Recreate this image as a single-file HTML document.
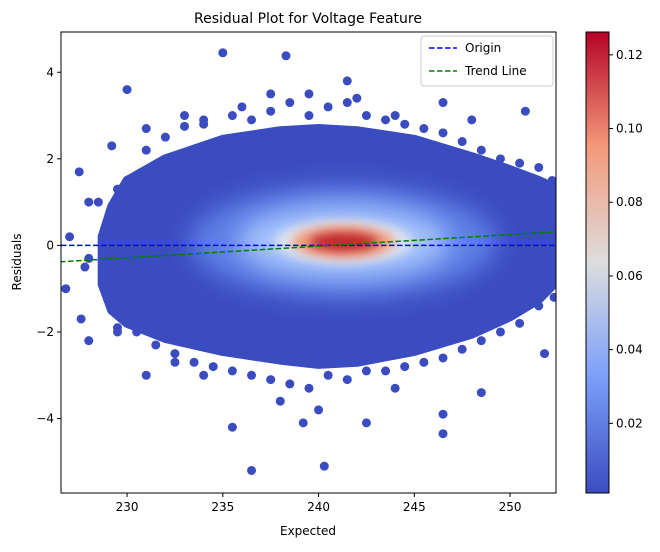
<!DOCTYPE html>
<html><head><meta charset="utf-8"><style>
body{margin:0;background:#fff;font-family:"Liberation Sans","DejaVu Sans",sans-serif;}
svg text{font-family:"DejaVu Sans","Liberation Sans",sans-serif;}
</style></head><body>
<svg id="chart" width="660" height="547" viewBox="0 0 660 547" xmlns="http://www.w3.org/2000/svg">
<defs>
<linearGradient id="cw" x1="0" y1="1" x2="0" y2="0">
<stop offset="0" stop-color="#3b4cc0"/><stop offset="0.25" stop-color="#7b9ff9"/><stop offset="0.5" stop-color="#dddddd"/><stop offset="0.75" stop-color="#f49a7b"/><stop offset="1" stop-color="#b40426"/>
</linearGradient>
<filter id="bl" x="-50%" y="-50%" width="200%" height="200%"><feGaussianBlur stdDeviation="12"/></filter>
<filter id="bl2" x="-50%" y="-50%" width="200%" height="200%"><feGaussianBlur stdDeviation="5"/></filter>
<clipPath id="pc"><rect x="61" y="32" width="495" height="461"/></clipPath>
</defs>
<text x="308" y="23" font-size="14" text-anchor="middle">Residual Plot for Voltage Feature</text>
<g id="plot" clip-path="url(#pc)"></g>
<rect x="61" y="32" width="495" height="461" fill="none" stroke="#000" stroke-width="1"/>
<g id="axes"></g>
<text x="308" y="535" font-size="12" text-anchor="middle">Expected</text>
<text transform="translate(21,262) rotate(-90)" font-size="12" text-anchor="middle">Residuals</text>
<g>
<rect x="421" y="36" width="132" height="50" rx="3" fill="#fff" fill-opacity="0.85" stroke="#ccc"/>
<line x1="429" y1="48" x2="457" y2="48" stroke="#0000ff" stroke-width="1.5" stroke-dasharray="5.5,2.5"/>
<text x="465" y="52" font-size="12">Origin</text>
<line x1="429" y1="71" x2="457" y2="71" stroke="#008000" stroke-width="1.5" stroke-dasharray="5.5,2.5"/>
<text x="465" y="75" font-size="12">Trend Line</text>
</g>
<rect x="586" y="32" width="23" height="461" fill="url(#cw)" stroke="#000" stroke-width="1"/>
<g id="cbticks"></g>
</svg>
<script>
const xTicks=[230,235,240,245,250];
const yTicks=[-4,-2,0,2,4];
const cbTicks=[0.02,0.04,0.06,0.08,0.10,0.12];
const cbLabels=["0.02","0.04","0.06","0.08","0.10","0.12"];
const envX=[228.7,229.2,230,232,235,238,240,242,245,248,250,251.5,252.5];
const envHi=[0.2,0.9,1.5,2.0,2.45,2.65,2.7,2.65,2.45,2.05,1.75,1.5,1.3];
const envLo=[-0.9,-1.5,-1.8,-2.15,-2.45,-2.65,-2.75,-2.7,-2.45,-2.05,-1.65,-1.25,-0.8];
const fringeX=[231,232,233,234,235.5,236.5,237.5,238.5,239.5,240.5,241.5,242.5,243.5,244.5,245.5,246.5,247.5,248.5,249.5,250.5,251.5,229.5,228.5,252.2,229.5,230.5,231.5,232.5,233.5,234.5,235.5,236.5,237.5,238.5,239.5,240.5,241.5,242.5,243.5,244.5,245.5,246.5,247.5,248.5,249.5,250.5,251.5,252.3,228,227.8];
const fringeY=[2.2,2.5,2.75,2.9,3.0,2.9,3.1,3.3,3.0,3.2,3.3,3.0,2.9,2.8,2.7,2.6,2.4,2.2,2.0,1.9,1.8,1.3,1.0,1.5,-1.9,-2.0,-2.3,-2.5,-2.7,-2.8,-2.9,-3.0,-3.1,-3.2,-3.3,-3.0,-3.1,-2.9,-2.9,-2.8,-2.7,-2.6,-2.4,-2.2,-2.0,-1.8,-1.4,-1.2,-0.3,-0.5];
const outX=[235,238.3,241.5,230,236,233,246.5,250.8,244,231,229.2,227.5,228,227,226.8,227.6,228,229.5,231,232.5,234,235.5,236.5,239.2,240.3,242.5,240,246.5,246.5,248.5,251.8,252.3,252.2,238,244,237.5,239.5,242,234,248];
const outY=[4.45,4.38,3.8,3.6,3.2,3.0,3.3,3.1,3.0,2.7,2.3,1.7,1.0,0.2,-1.0,-1.7,-2.2,-2.0,-3.0,-2.7,-3.0,-4.2,-5.2,-4.1,-5.1,-4.1,-3.8,-4.35,-3.9,-3.4,-2.5,-0.5,0.4,-3.6,-3.3,3.5,3.5,3.4,2.8,2.9];
const trendX=[226.5,252.6];
const trendY=[-0.38,0.32];
const coreX=241.3, coreY=0.08;
const coreRX=[8,5.5,3.6,2.7,1.8];
const coreRY=[1.3,0.85,0.5,0.38,0.22];
const coreC=["#5f80e6","#a5c3fd","#dfe4ef","#f0a080","#c0282d"];
const cbMin=0.0011, cbMax=0.1262;

const X0=226.55,X1=252.4,Y0=-5.72,Y1=4.93;
const sx=v=>61+(v-X0)/(X1-X0)*495;
const sy=v=>493-(v-Y0)/(Y1-Y0)*461;
const cy=v=>493-(v-cbMin)/(cbMax-cbMin)*461;
const NS="http://www.w3.org/2000/svg";
function mk(t,a,p){const e=document.createElementNS(NS,t);for(const k in a)e.setAttribute(k,a[k]);p.appendChild(e);return e;}
const plot=document.getElementById('plot'),axes=document.getElementById('axes'),cb=document.getElementById('cbticks');
const C="#3b4cc0";
let pts=envX.map((x,i)=>sx(x)+","+sy(envHi[i])).concat(envX.map((x,i)=>sx(x)+","+sy(envLo[i])).reverse()).join(" ");
const env=mk('polygon',{points:pts,fill:C,stroke:C,"stroke-width":9,"stroke-linejoin":"round"},plot);


fringeX.forEach((x,i)=>{const c=mk('circle',{cx:sx(x),cy:sy(fringeY[i]),r:4.5,fill:C},plot);

});
outX.forEach((x,i)=>{const c=mk('circle',{cx:sx(x),cy:sy(outY[i]),r:4.5,fill:C},plot);

});
coreRX.forEach((rx,i)=>{const e=mk('ellipse',{cx:sx(coreX),cy:sy(coreY),rx:rx*495/(X1-X0),ry:coreRY[i]*461/(Y1-Y0),fill:coreC[i],filter:i<2?'url(#bl)':'url(#bl2)'},plot);

});
const o=mk('line',{x1:61,x2:556,y1:sy(0),y2:sy(0),stroke:"#0000ff","stroke-width":1.5,"stroke-dasharray":"5.5,2.5"},plot);


const tl=mk('line',{x1:sx(trendX[0]),x2:sx(trendX[1]),y1:sy(trendY[0]),y2:sy(trendY[1]),stroke:"#008000","stroke-width":1.5,"stroke-dasharray":"5.5,2.5"},plot);


xTicks.forEach(v=>{mk('line',{x1:sx(v),x2:sx(v),y1:493,y2:497,stroke:"#000"},axes);
const t=mk('text',{x:sx(v),y:511,"font-size":12,"text-anchor":"middle"},axes);t.textContent=v;

});
yTicks.forEach(v=>{mk('line',{x1:57,x2:61,y1:sy(v),y2:sy(v),stroke:"#000"},axes);
const t=mk('text',{x:54,y:sy(v)+4,"font-size":12,"text-anchor":"end"},axes);t.textContent=v<0?"\u2212"+(-v):v;

});
cbTicks.forEach((v,i)=>{mk('line',{x1:609,x2:613,y1:cy(v),y2:cy(v),stroke:"#000"},cb);
const t=mk('text',{x:616,y:cy(v)+4,"font-size":12},cb);t.textContent=cbLabels[i];

});
</script>
</body></html>
